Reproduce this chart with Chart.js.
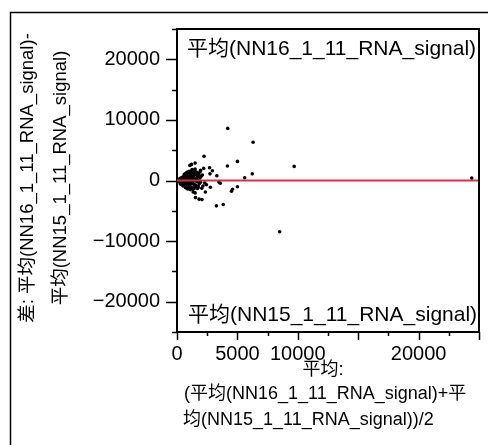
<!DOCTYPE html>
<html>
<head>
<meta charset="utf-8">
<script src="https://cdn.jsdelivr.net/npm/chart.js@4"></script>
<style>
  body { margin: 0; background: #fff; }
  canvas { display: block; }
</style>
</head>
<body>
<canvas id="chart" width="489" height="445"></canvas>
<script>
// Bland-Altman style plot: mean of the two signals vs their difference
const meanValues = [
  100, 150, 200, 250, 300, 350, 400, 450, 500, 550, 600, 650, 700, 750, 800, 850, 900, 950, 1000, 1050,
  1100, 1150, 1200, 1250, 1300, 1350, 1400, 1450, 1500, 1550, 1600, 1650, 1700, 1750, 1800,
  120, 180, 220, 280, 330, 380, 420, 480, 520, 580, 620, 680, 720, 780, 820, 880, 920, 980, 1020, 1080,
  1120, 1180, 1220, 1280, 1320, 1380, 1420, 1480, 1520,
  160, 260, 360, 460, 560, 660, 760, 860, 960, 1060, 1160, 1260, 1360, 1460, 1560, 1660, 1760,
  300, 500, 700, 900, 600, 800, 1000, 1200, 1400, 1600, 1100, 1300, 700, 900, 1500, 1250,
  400, 650, 850, 1050, 1350, 1700, 1750, 1850, 1900, 1950, 2000,
  1900, 1700, 2100, 2300, 1950, 2150,
  4200, 6300, 2240, 5000, 4180, 9700, 2700, 2930, 2210, 2730, 6230, 3300, 5600, 3470, 3580, 2440,
  2760, 5000, 4590, 4510, 2050, 2350, 1340, 1500, 1530, 1830, 2070, 3260, 3830, 1070, 1200, 1500,
  24400, 8500
];
const diffValues = [
  50, -80, 120, -150, 200, -100, 300, -250, 150, -300, 400, -200, 250, -400, 500, -350, 100, -500, 600, -450,
  350, -600, 700, -300, 450, -550, 800, -700, 300, -800, 900, -200, 600, -900, 1000,
  -150, 230, -300, 350, -400, 450, -500, 550, -600, 650, -700, 750, -800, 850, -900, 950, -1000, 1050, -1100, 1150,
  -1150, 1200, -1200, 1250, -1250, 1300, -1300, 1350, -1000,
  20, 60, -20, 40, -60, 80, -50, 30, -80, 90, -30, 70, -90, 50, -40, 100, -70,
  -600, -900, -1200, -1400, 1000, 1300, 1500, 1600, 1700, 1400, -1500, -1450, 1100, 1400, 1900, 1800,
  -700, 1050, -1300, -1350, 1550, 1200, -1100, -500, 400, -300, 700,
  1400, -1300, 900, -400, 1700, -900,
  8600, 6300, 4000, 3150, 2400, 2330, 2100, 1600, 2000, 1100, 1100, 790, 460, -250, -460, -690,
  -1115, -1020, -1440, -1770, -1280, -1890, -1890, -2050, -2820, -3080, -3150, -4180, -3970, 2490, 2660, 2870,
  400, -8450
];
const meanDiff = [0, 0];
const meanDiffRange = [0, 25000];

const xTickLabels = [0, 5000, 10000, 20000];
const yTickLabels = [20000, 10000, 0, -10000, -20000];

const yTitleLines = ['差: 平均(NN16_1_11_RNA_signal)-', '平均(NN15_1_11_RNA_signal)'];
const xTitleLines = ['平均:', '(平均(NN16_1_11_RNA_signal)+平', '均(NN15_1_11_RNA_signal))/2'];
const topLabel = '平均(NN16_1_11_RNA_signal)';
const bottomLabel = '平均(NN15_1_11_RNA_signal)';

const FONT = '"Liberation Sans", "Noto Sans CJK SC", sans-serif';

const points = meanValues.map((m, i) => ({ x: m, y: diffValues[i] }));
const linePoints = meanDiffRange.map((x, i) => ({ x: x, y: meanDiff[i] }));

const fmt = v => (v < 0 ? '\u2212' + Math.abs(v) : String(v));

// ticks, frame and the free text
const decorations = {
  id: 'decorations',
  afterDraw(chart) {
    const ctx = chart.ctx;
    const area = chart.chartArea;
    const xs = chart.scales.x;
    const ys = chart.scales.y;
    ctx.save();
    ctx.strokeStyle = '#000';

    // outer frame (top + left)
    ctx.lineWidth = 1.5;
    ctx.beginPath();
    ctx.moveTo(10.5, 445);
    ctx.lineTo(10.5, 12.5);
    ctx.lineTo(488, 12.5);
    ctx.stroke();

    // plot frame top + right
    ctx.lineWidth = 2;
    ctx.beginPath();
    ctx.moveTo(area.left, area.top);
    ctx.lineTo(area.right, area.top);
    ctx.lineTo(area.right, area.bottom);
    ctx.stroke();

    // y ticks
    ctx.lineWidth = 1.5;
    for (let v = -25000; v <= 25000; v += 5000) {
      const y = Math.round(ys.getPixelForValue(v)) + 0.5;
      const len = v % 10000 === 0 ? 11 : 5;
      ctx.beginPath();
      ctx.moveTo(area.left - len, y);
      ctx.lineTo(area.left, y);
      ctx.stroke();
    }
    // x ticks
    for (let v = 0; v <= 25000; v += 2500) {
      const x = Math.round(xs.getPixelForValue(v)) + 0.5;
      const len = v % 5000 === 0 ? 8 : 4;
      ctx.beginPath();
      ctx.moveTo(x, area.bottom);
      ctx.lineTo(x, area.bottom + len);
      ctx.stroke();
    }

    ctx.fillStyle = '#000';
    // labels inside the plot
    ctx.font = '21px ' + FONT;
    ctx.textAlign = 'left';
    ctx.textBaseline = 'middle';
    ctx.fillText(topLabel, 187, 49);
    ctx.fillText(bottomLabel, 188, 315);

    // x axis title
    ctx.font = '18px ' + FONT;
    ctx.textAlign = 'center';
    ctx.fillText(xTitleLines[0], 323, 370);
    ctx.textAlign = 'left';
    ctx.fillText(xTitleLines[1], 184, 394);
    ctx.fillText(xTitleLines[2], 183, 420);

    // y axis title
    ctx.font = '18.5px ' + FONT;
    ctx.translate(0, 178);
    ctx.rotate(-Math.PI / 2);
    ctx.textAlign = 'center';
    ctx.fillText(yTitleLines[0], 0, 28);
    ctx.fillText(yTitleLines[1], 0, 61);
    ctx.restore();
  }
};

new Chart(document.getElementById('chart'), {
  type: 'scatter',
  data: {
    datasets: [
      {
        type: 'line',
        data: linePoints,
        borderColor: '#e02c4c',
        borderWidth: 2,
        pointRadius: 0,
        order: 0
      },
      {
        data: points,
        backgroundColor: '#000',
        borderWidth: 0,
        pointRadius: 1.8,
        order: 1
      }
    ]
  },
  options: {
    responsive: false,
    animation: false,
    layout: { padding: { top: 26, right: 6, left: 0, bottom: 0 } },
    plugins: { legend: { display: false }, tooltip: { enabled: false } },
    scales: {
      x: {
        type: 'linear',
        min: 0,
        max: 25000,
        grid: { display: false, drawTicks: false },
        border: { color: '#000', width: 2 },
        ticks: {
          stepSize: 2500,
          autoSkip: false,
          maxRotation: 0,
          padding: 10,
          color: '#000',
          font: { family: FONT, size: 20 },
          callback: v => (xTickLabels.includes(v) ? fmt(v) : '')
        },
        afterFit: s => { s.height = 113; }
      },
      y: {
        type: 'linear',
        min: -25000,
        max: 25000,
        grid: { display: false, drawTicks: false },
        border: { color: '#000', width: 2 },
        ticks: {
          stepSize: 5000,
          autoSkip: false,
          padding: 17,
          color: '#000',
          font: { family: FONT, size: 20 },
          callback: v => (yTickLabels.includes(v) ? fmt(v) : '')
        },
        afterFit: s => { s.width = 177; }
      }
    }
  },
  plugins: [decorations]
});
</script>
</body>
</html>
